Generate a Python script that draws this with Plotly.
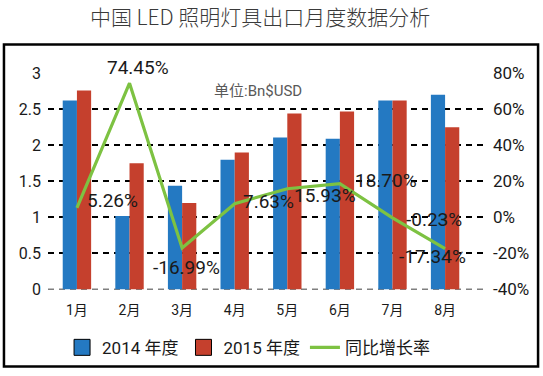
import plotly.graph_objects as go

months = ["1月", "2月", "3月", "4月", "5月", "6月", "7月", "8月"]
v2014 = [2.62, 1.02, 1.44, 1.80, 2.11, 2.09, 2.62, 2.70]
v2015 = [2.76, 1.75, 1.20, 1.90, 2.44, 2.47, 2.62, 2.25]
yoy = [5.26, 74.45, -16.99, 7.63, 15.93, 18.70, -0.23, -17.34]
left_ticks = [0, 0.5, 1, 1.5, 2, 2.5, 3]
right_ticks = [-40, -20, 0, 20, 40, 60, 80]

xs = list(range(len(months)))
BLUE = "#2479C2"
RED = "#C5402D"
GREEN = "#7DC242"
FONT = "Roboto, 'Noto Sans CJK SC', sans-serif"

H, MT, MB = 376, 10, 40
PH = H - MT - MB


def py(px):
    """pixel row -> paper fraction"""
    return (H - MB - px) / PH


fig = go.Figure()
fig.add_trace(go.Bar(x=xs, y=v2014, name="2014 年度", marker=dict(color=BLUE, line=dict(width=0)),
                     width=0.27, offset=-0.27, showlegend=False))
fig.add_trace(go.Bar(x=xs, y=v2015, name="2015 年度", marker=dict(color=RED, line=dict(width=0)),
                     width=0.27, offset=0.0, showlegend=False))
# legend-only entries with outlined square swatches
fig.add_trace(go.Scatter(x=[None], y=[None], mode="markers", name="2014 年度",
                         marker=dict(symbol="square", size=16, color=BLUE, line=dict(color="black", width=1))))
fig.add_trace(go.Scatter(x=[None], y=[None], mode="markers", name="2015 年度",
                         marker=dict(symbol="square", size=16, color=RED, line=dict(color="black", width=1))))
fig.add_trace(go.Scatter(x=xs, y=yoy, name="同比增长率", yaxis="y2", mode="lines",
                         line=dict(color=GREEN, width=3.2)))

# label placements (anchor, xshift, yshift)
place = [("left", 8, 7), ("center", 8, 16), ("center", 4, -19), ("left", 6, 2),
         ("left", 5, -7), ("left", 13, 3), ("left", 12, -2), ("center", -13, -8)]
for i, (xa, dx, dy) in enumerate(place):
    fig.add_annotation(x=xs[i], y=yoy[i], xref="x", yref="y2", text=f"{yoy[i]:.2f}%",
                       showarrow=False, xanchor=xa, yanchor="middle", xshift=dx, yshift=dy,
                       font=dict(size=19, color="#1a1a1a", family=FONT))

fig.add_annotation(x=0.376, y=py(92), xref="paper", yref="paper", text="单位:Bn$USD",
                   showarrow=False, xanchor="left", yanchor="middle",
                   font=dict(size=15, color="#595959", family=FONT))

fig.add_shape(type="rect", xref="paper", yref="paper", x0=-0.101, x1=1.124, y0=py(371), y1=py(45),
              line=dict(color="black", width=2.5), fillcolor="rgba(0,0,0,0)", layer="below")
fig.add_shape(type="line", xref="paper", yref="y", x0=0, x1=1, y0=0, y1=0,
              line=dict(color="black", width=1.5, dash="6px,5px"), layer="below")

fig.update_layout(
    width=543, height=H,
    margin=dict(l=48, r=59, t=MT, b=MB),
    paper_bgcolor="white", plot_bgcolor="white",
    title=dict(text="中国 LED 照明灯具出口月度数据分析", x=0.479, xanchor="center", y=0.952, yanchor="middle",
               font=dict(size=21, color="#3a3a3a", family="'Noto Sans CJK SC', sans-serif", weight=300)),
    barmode="overlay",
    showlegend=True,
    legend=dict(orientation="h", x=0.46, xanchor="center", y=py(352), yanchor="middle",
                font=dict(size=17, color="#1a1a1a", family=FONT), itemwidth=30,
                tracegroupgap=0, bgcolor="rgba(0,0,0,0)"),
    xaxis=dict(range=[-0.55, 7.74], tickmode="array", tickvals=xs, ticktext=months,
               showgrid=False, zeroline=False, showline=False, ticks="", ticklabelstandoff=10,
               tickfont=dict(size=14, color="#1a1a1a", family=FONT), automargin=False),
    yaxis=dict(range=[0, 3], domain=[py(293), py(74)], tickmode="array", tickvals=left_ticks,
               ticktext=[("%g" % t) for t in left_ticks],
               showgrid=True, gridcolor="black", gridwidth=1.5, griddash="6px,5px",
               zeroline=False, showline=False, ticks="", ticklabelstandoff=6,
               tickfont=dict(size=16, color="#1a1a1a", family=FONT), automargin=False),
    yaxis2=dict(range=[-40, 80], overlaying="y", side="right", tickmode="array",
                tickvals=right_ticks, ticktext=[f"{t}%" for t in right_ticks],
                showgrid=False, zeroline=False, showline=False, ticks="", ticklabelstandoff=8,
                tickfont=dict(size=17, color="#1a1a1a", family=FONT), automargin=False),
)

fig.write_html("out.html", config={"displayModeBar": False},
               post_script="document.body.style.margin='0';")
